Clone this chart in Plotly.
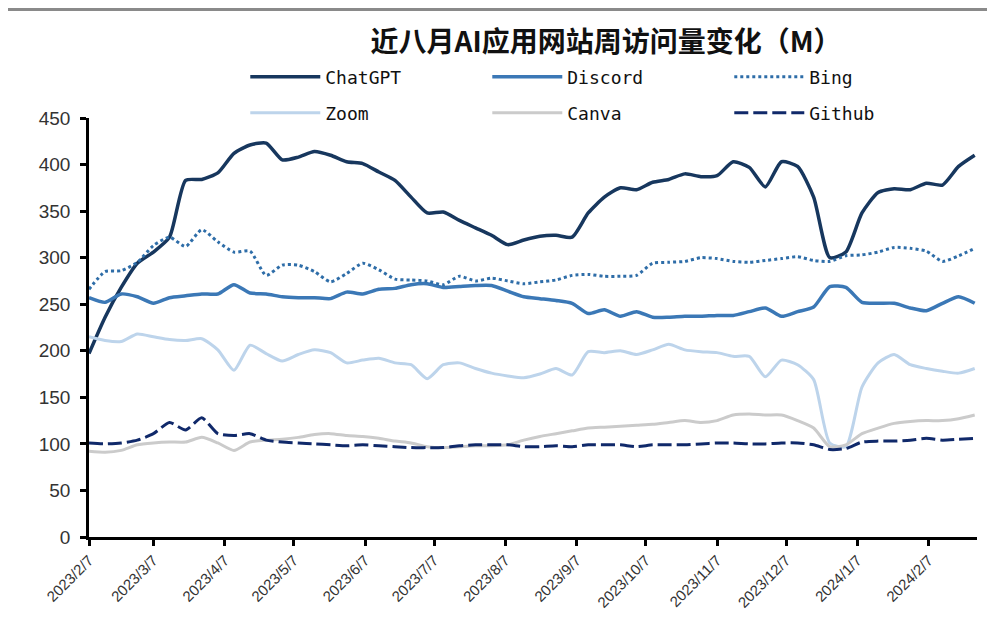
import pandas as pd
import plotly.graph_objects as go

# ---- data (weekly, M visits) ----
start_date = "2023-02-07"
n_weeks = 56
dates = pd.date_range(start_date, periods=n_weeks, freq="7D")

chatgpt = [197, 236, 268, 294, 306, 322, 383, 384, 391, 412, 421, 423, 405, 408,
           414, 410, 403, 401, 392, 383, 365, 348, 349, 340, 332, 324, 314, 319,
           323, 324, 322, 348, 365, 375, 373, 381, 384, 390, 387, 388, 403, 397,
           376, 403, 398, 365, 300, 306, 348, 370, 374, 373, 380, 378, 398, 410]
discord = [257, 252, 261, 258, 251, 257, 259, 261, 261, 271, 262, 261, 258, 257,
           257, 256, 263, 261, 266, 267, 271, 272, 268, 269, 270, 270, 264, 258,
           256, 254, 251, 240, 244, 237, 242, 236, 236, 237, 237, 238, 238, 242,
           246, 237, 242, 247, 269, 268, 252, 251, 251, 246, 243, 251, 258, 251]
bing = [266, 285, 286, 295, 313, 322, 312, 330, 317, 306, 307, 281, 292, 292,
        285, 274, 283, 294, 287, 277, 276, 275, 271, 280, 275, 278, 275, 272,
        274, 276, 281, 282, 280, 280, 281, 294, 295, 296, 300, 299, 296, 295,
        297, 299, 301, 297, 296, 302, 303, 306, 311, 310, 307, 296, 302, 310]
zoom = [215, 211, 210, 218, 215, 212, 211, 213, 201, 179, 206, 197, 189, 196,
        201, 198, 187, 190, 192, 187, 185, 170, 185, 187, 181, 176, 173, 171,
        175, 181, 174, 199, 198, 200, 196, 201, 207, 201, 199, 198, 194, 194,
        172, 190, 185, 169, 101, 97, 161, 187, 196, 185, 181, 178, 176, 181]
canva = [92, 91, 93, 99, 101, 102, 102, 107, 101, 93, 102, 104, 105, 107,
         110, 111, 109, 108, 106, 103, 101, 97, 96, 97, 98, 98, 99, 104,
         108, 111, 114, 117, 118, 119, 120, 121, 123, 125, 123, 125, 131, 132,
         131, 131, 125, 117, 97, 99, 111, 117, 122, 124, 125, 125, 127, 131]
github = [101, 100, 101, 104, 111, 123, 115, 128, 111, 109, 111, 104, 102, 101,
          100, 99, 98, 99, 98, 97, 96, 96, 96, 98, 99, 99, 99, 97,
          97, 98, 97, 99, 99, 99, 97, 99, 99, 99, 100, 101, 101, 100,
          100, 101, 101, 99, 94, 95, 102, 103, 103, 104, 106, 104, 105, 106]

tick_dates = ["2023-02-07", "2023-03-07", "2023-04-07", "2023-05-07", "2023-06-07",
              "2023-07-07", "2023-08-07", "2023-09-07", "2023-10-07", "2023-11-07",
              "2023-12-07", "2024-01-07", "2024-02-07"]
tick_labels = ["2023/2/7", "2023/3/7", "2023/4/7", "2023/5/7", "2023/6/7",
               "2023/7/7", "2023/8/7", "2023/9/7", "2023/10/7", "2023/11/7",
               "2023/12/7", "2024/1/7", "2024/2/7"]

title_text = "近八月AI应用网站周访问量变化（M）"

series = [
    ("ChatGPT", chatgpt, dict(color="#17375E", width=3.5), "legend"),
    ("Discord", discord, dict(color="#3B78B6", width=3.5), "legend"),
    ("Bing", bing, dict(color="#2E6DA8", width=3, dash="dot"), "legend"),
    ("Zoom", zoom, dict(color="#BDD4EB", width=3), "legend2"),
    ("Canva", canva, dict(color="#CBCBCB", width=3), "legend2"),
    ("Github", github, dict(color="#10296A", width=3, dash="14px,5px"), "legend2"),
]

fig = go.Figure()
for name, vals, line, lg in series:
    fig.add_trace(go.Scatter(
        x=dates, y=vals, name=name, mode="lines",
        line=dict(shape="spline", smoothing=0.6, **line),
        legend=lg,
    ))

# the page body has an 8px margin, so the figure is sized/offset accordingly
W, H = 987, 631
L, R, T, B = 81, 18, 110, 102
PW, PH = W - L - R, H - T - B   # 888 x 419

legend_font = dict(family="DejaVu Sans Mono", size=18, color="#111111")
common_leg = dict(orientation="h", xanchor="left", yanchor="middle",
                  entrywidth=157, entrywidthmode="pixels", itemwidth=70,
                  font=legend_font, bgcolor="rgba(0,0,0,0)", tracegroupgap=0,
                  traceorder="normal")

fig.update_layout(
    width=W, height=H,
    paper_bgcolor="white", plot_bgcolor="white",
    margin=dict(l=L, r=R, t=T, b=B, autoexpand=False),
    title=dict(text="<b>" + title_text + "</b>", x=598 / W, xanchor="center",
               y=1 - 34 / H, yanchor="middle",
               font=dict(family="Noto Sans CJK SC", size=28, color="#111111")),
    legend=dict(x=0.176, y=(529 - 69) / PH, **common_leg),
    legend2=dict(x=0.176, y=(529 - 105) / PH, **common_leg),
    xaxis=dict(
        type="date",
        range=["2023-02-07", "2024-02-28"],
        tickmode="array", tickvals=tick_dates, ticktext=tick_labels,
        tickangle=-45,
        showline=True, linecolor="black", linewidth=2.5,
        ticks="outside", ticklen=6, tickwidth=2.5, tickcolor="black",
        showgrid=False, zeroline=False,
        tickfont=dict(family="Liberation Sans", size=15, color="#333333"),
    ),
    yaxis=dict(
        range=[0, 450], dtick=50, tick0=0,
        showline=True, linecolor="black", linewidth=2.5,
        ticks="outside", ticklen=6, tickwidth=2.5, tickcolor="black",
        ticklabelstandoff=6,
        showgrid=False, zeroline=False,
        tickfont=dict(family="Liberation Sans", size=19, color="#333333"),
    ),
    shapes=[dict(type="line", xref="paper", yref="paper",
                 x0=-L / PW, x1=(W - L) / PW,
                 y0=(PH + T - 1.5) / PH, y1=(PH + T - 1.5) / PH,
                 line=dict(color="#8A8A8A", width=3))],
)

fig.write_html("out.html")
